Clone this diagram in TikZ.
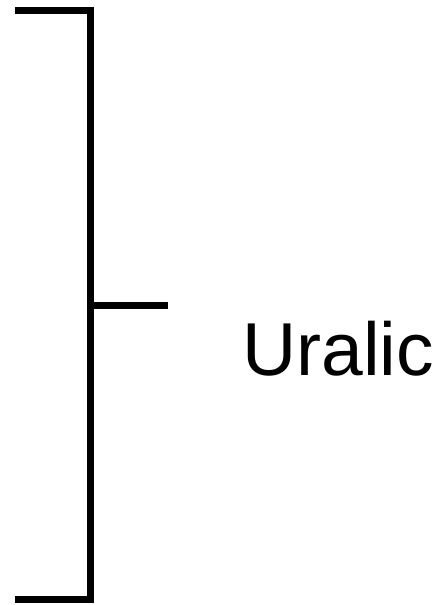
\documentclass[tikz,border=0pt]{standalone}
\usepackage{fontspec}
\setmainfont{Liberation Sans}
\usetikzlibrary{positioning}

\begin{document}
\begin{tikzpicture}[x=1pt,y=1pt,
  brk/.style={line width=7pt,black,line join=miter},
  lbl/.style={font=\fontsize{75}{90}\selectfont,inner sep=0pt,anchor=base west}]
\useasboundingbox (0,0) rectangle (437,605);
\coordinate (topend) at (15,594);
\coordinate (topcorner) at (90,594);
\coordinate (botcorner) at (90,5);
\coordinate (botend) at (15,5);
\coordinate (mid) at (90,299);
\coordinate (tick) at (168,299);
\node[lbl] (uralic) at (242,229) {Uralic};
\draw[brk] (topend) -- (topcorner) -- (botcorner) -- (botend);
\draw[brk] (mid) -- (tick);
\end{tikzpicture}
\end{document}
